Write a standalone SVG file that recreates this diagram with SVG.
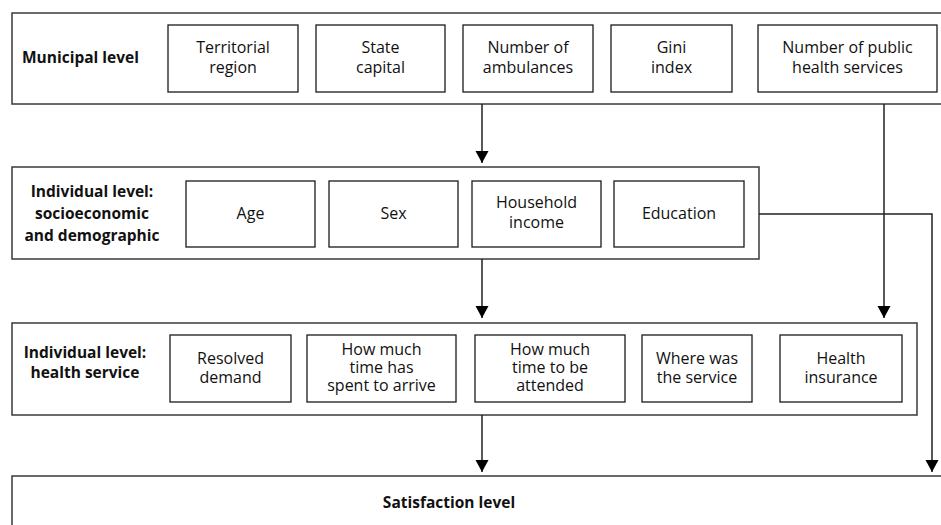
<svg xmlns="http://www.w3.org/2000/svg" width="941" height="525" viewBox="0 0 941 525">
<style>
.outer{fill:#fff;stroke:#3a3a3a;stroke-width:1.5}
.box{fill:#fff;stroke:#1a1a1a;stroke-width:1.3}
.t{font-family:"Open Sans","Noto Sans",sans-serif;font-size:16px;fill:#111;text-anchor:middle}
.b{font-family:"Open Sans","Noto Sans",sans-serif;font-size:15.5px;font-weight:bold;fill:#111}
.c{text-anchor:middle}
.conn{fill:none;stroke:#222;stroke-width:1.5}
</style>
<defs>
<marker id="arr" markerUnits="userSpaceOnUse" markerWidth="12" markerHeight="14" refX="12" refY="6.5" orient="auto">
<path d="M0,0 L12,6.5 L0,13 Z" fill="#000"/>
</marker>
</defs>
<rect width="941" height="525" fill="#fff"/>

<g id="municipal">
<rect class="outer" x="12" y="13" width="940" height="91"/>
<text class="b" x="22" y="63">Municipal level</text>
</g>
<g id="territorial-region"><rect class="box" x="168" y="25" width="130" height="67"/><text class="t" x="233" y="53">Territorial</text><text class="t" x="233" y="73">region</text></g>
<g id="state-capital"><rect class="box" x="316" y="25" width="129" height="67"/><text class="t" x="380.5" y="53">State</text><text class="t" x="380.5" y="73">capital</text></g>
<g id="ambulances"><rect class="box" x="463" y="25" width="130" height="67"/><text class="t" x="528" y="53">Number of</text><text class="t" x="528" y="73">ambulances</text></g>
<g id="gini"><rect class="box" x="611" y="25" width="121" height="67"/><text class="t" x="671.5" y="53">Gini</text><text class="t" x="671.5" y="73">index</text></g>
<g id="public-health"><rect class="box" x="758" y="25" width="179" height="67"/><text class="t" x="847.5" y="53">Number of public</text><text class="t" x="847.5" y="73">health services</text></g>

<g id="socio">
<rect class="outer" x="12" y="167" width="747" height="92"/>
<text class="b c" x="92" y="197">Individual level:</text>
<text class="b c" x="92" y="219">socioeconomic</text>
<text class="b c" x="92" y="241">and demographic</text>
</g>
<g id="age"><rect class="box" x="186" y="181" width="129" height="66"/><text class="t" x="250.5" y="219">Age</text></g>
<g id="sex"><rect class="box" x="329" y="181" width="129" height="66"/><text class="t" x="393.5" y="219">Sex</text></g>
<g id="household-income"><rect class="box" x="472" y="181" width="129" height="66"/><text class="t" x="536.5" y="208">Household</text><text class="t" x="536.5" y="228">income</text></g>
<g id="education"><rect class="box" x="614" y="181" width="130" height="66"/><text class="t" x="679" y="219">Education</text></g>

<g id="health-service">
<rect class="outer" x="12" y="323" width="905" height="92"/>
<text class="b c" x="85" y="358">Individual level:</text>
<text class="b c" x="85" y="378">health service</text>
</g>
<g id="resolved-demand"><rect class="box" x="170" y="335" width="121" height="67"/><text class="t" x="230.5" y="364">Resolved</text><text class="t" x="230.5" y="383">demand</text></g>
<g id="time-arrive"><rect class="box" x="307" y="335" width="149" height="67"/><text class="t" x="381.5" y="355">How much</text><text class="t" x="381.5" y="373">time has</text><text class="t" x="381.5" y="391">spent to arrive</text></g>
<g id="time-attended"><rect class="box" x="475" y="335" width="150" height="67"/><text class="t" x="550" y="355">How much</text><text class="t" x="550" y="373">time to be</text><text class="t" x="550" y="391">attended</text></g>
<g id="where-service"><rect class="box" x="642" y="335" width="110" height="67"/><text class="t" x="697" y="364">Where was</text><text class="t" x="697" y="383">the service</text></g>
<g id="health-insurance"><rect class="box" x="780" y="335" width="122" height="67"/><text class="t" x="841" y="364">Health</text><text class="t" x="841" y="383">insurance</text></g>

<g id="satisfaction">
<rect class="outer" x="12" y="476" width="940" height="70"/>
<text class="b c" x="449" y="508">Satisfaction level</text>
</g>

<g id="connectors">
<path class="conn" d="M482,104 V163" marker-end="url(#arr)"/>
<path class="conn" d="M482,259 V318" marker-end="url(#arr)"/>
<path class="conn" d="M884,104 V318" marker-end="url(#arr)"/>
<path class="conn" d="M482,415 V472" marker-end="url(#arr)"/>
<path class="conn" d="M759,214 H932 V472" marker-end="url(#arr)"/>
</g>
</svg>
